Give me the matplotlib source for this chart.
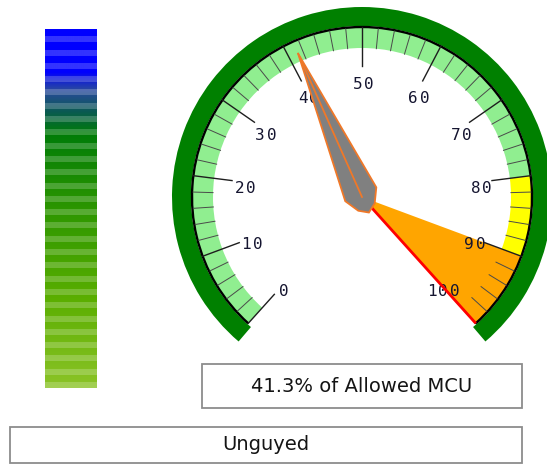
import numpy as np
import matplotlib
matplotlib.use("Agg")
import matplotlib.pyplot as plt
from matplotlib.patches import Wedge, Arc, Polygon, Rectangle
from matplotlib.colors import to_rgb

# ---- gauge data ----
scale_min, scale_max = 0, 100
major_ticks = [0, 10, 20, 30, 40, 50, 60, 70, 80, 90, 100]
minor_step = 2
band_ranges = [(0, 80, "#90EE90"), (80, 90, "#FFFF00")]
alert_range = (90, 100, "#FFA500")
max_marker = 100
needle_value = 41.3
status_text = "41.3% of Allowed MCU"
guy_text = "Unguyed"

# ---- level bar colour ramp (top -> bottom) ----
bar_stops = [0.0, 0.12, 0.17, 0.23, 0.29, 0.50, 0.75, 1.0]
bar_colors = ["#0000FF", "#0000FF", "#2A4A9E", "#0A5A52", "#007C08",
              "#2C9600", "#5AAE00", "#8CC428"]
bar_stripes = 27

W, H = 547, 469
fig = plt.figure(figsize=(W / 100, H / 100), dpi=100)
ax = fig.add_axes([0, 0, 1, 1])
ax.set_xlim(0, W)
ax.set_ylim(0, H)
ax.axis("off")

CX, CY = 362, H - 197
A0, SWEEP = 228.0, 276.0


def ang(v):
    return A0 - SWEEP * (v - scale_min) / (scale_max - scale_min)


def pol(r, a):
    t = np.radians(a)
    return CX + r * np.cos(t), CY + r * np.sin(t)


# outer ring
ax.add_patch(Wedge((CX, CY), 190, ang(scale_max) - 1.5, ang(scale_min) + 1.5,
                   width=19, facecolor="#008000", edgecolor="none", zorder=1))

# coloured scale bands
for lo, hi, col in band_ranges:
    ax.add_patch(Wedge((CX, CY), 170, ang(hi), ang(lo), width=21,
                       facecolor=col, edgecolor="none", zorder=2))
lo, hi, col = alert_range
ax.add_patch(Wedge((CX, CY), 170, ang(hi), ang(lo),
                   facecolor=col, edgecolor="none", zorder=2))

# scale arc
ax.add_patch(Arc((CX, CY), 340, 340, theta1=ang(scale_max), theta2=ang(scale_min),
                 color="black", lw=1.7, zorder=3))

# ticks
for v in range(scale_min, scale_max + 1, minor_step):
    a = ang(v)
    if v in major_ticks:
        x0, y0 = pol(131, a)
        x1, y1 = pol(170, a)
        ax.plot([x0, x1], [y0, y1], color="#1E1E1E", lw=1.0, zorder=3)
    else:
        x0, y0 = pol(149, a)
        x1, y1 = pol(169, a)
        ax.plot([x0, x1], [y0, y1], color="#4A4A4A", lw=0.7, zorder=3)

# tick labels with wide letter spacing
for v in major_ticks:
    a = ang(v)
    lx, ly = pol(119, a)
    lx += 1.5
    ly -= 6.5
    s = str(v)
    n = len(s)
    for i, ch in enumerate(s):
        ax.text(lx + (i - (n - 1) / 2) * 11.5, ly, ch, ha="center", va="center",
                fontsize=11.5, family="DejaVu Sans Mono", color="#151530",
                zorder=4)

# maximum marker
mx, my = pol(170, ang(max_marker))
ax.plot([CX, mx], [CY, my], color="#FF0000", lw=2.0, zorder=4.5,
        solid_capstyle="butt")

# needle
a = np.radians(ang(needle_value))
d = np.array([np.cos(a), np.sin(a)])
p = np.array([np.sin(a), -np.cos(a)])
shape = [(157, 0), (3, 17), (-11, 9), (-17, 0), (-11, -9), (3, -17)]
pts = [(CX + u * d[0] + w * p[0], CY + u * d[1] + w * p[1]) for u, w in shape]
ax.add_patch(Polygon(pts, closed=True, facecolor="#808080", edgecolor="#F07828",
                     lw=1.3, joinstyle="miter", zorder=5))
tx, ty = CX + 157 * d[0], CY + 157 * d[1]
ax.plot([CX, tx], [CY, ty], color="#F07828", lw=1.3, zorder=5.5)

# level bar
rows = 359
pos = (np.arange(rows) + 0.5) / rows
rgb = np.array([to_rgb(c) for c in bar_colors])
col = np.stack([np.interp(pos, bar_stops, rgb[:, k]) for k in range(3)], axis=1)
phase = (pos * bar_stripes) % 1.0
light = phase > 0.55
col[light] = col[light] * 0.80 + 0.20
img = col[:, None, :].repeat(2, axis=1)
ax.imshow(img, extent=[45, 97, H - 388, H - 29], aspect="auto",
          interpolation="bilinear", zorder=1)

# text boxes
ax.add_patch(Rectangle((202, H - 408), 320, 44, facecolor="white",
                       edgecolor="#8C8C8C", lw=1.3, zorder=2))
ax.text(362, H - 386, status_text, ha="center", va="center", fontsize=14,
        family="DejaVu Sans", color="#141414", zorder=3)
ax.add_patch(Rectangle((10, H - 463), 512, 36, facecolor="white",
                       edgecolor="#8C8C8C", lw=1.3, zorder=2))
ax.text(266, H - 444, guy_text, ha="center", va="center", fontsize=14,
        family="DejaVu Sans", color="#141414", zorder=3)

fig.savefig("out.png", dpi=100)
